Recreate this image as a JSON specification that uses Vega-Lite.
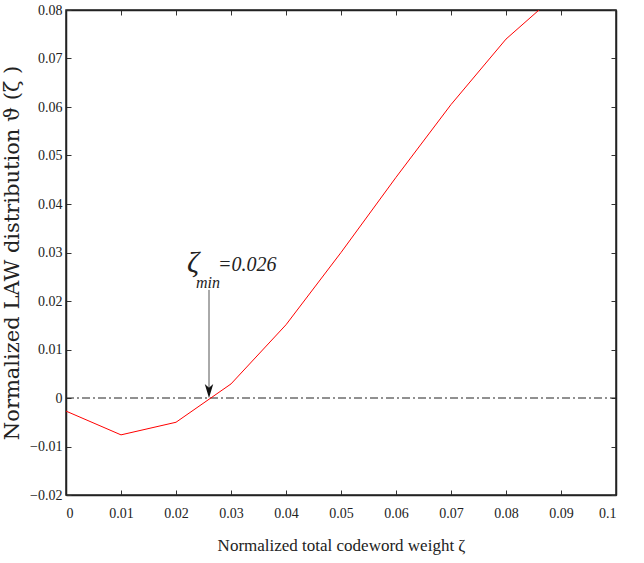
{
  "$schema": "https://vega.github.io/schema/vega-lite/v6.json",
  "width": 550,
  "height": 485,
  "autosize": "none",
  "padding": {"left": 66, "top": 10, "right": 28, "bottom": 68},
  "background": "white",
  "config": {
    "view": {"stroke": "#222", "strokeWidth": 1.5},
    "axis": {
      "labelFont": "Liberation Serif",
      "labelFontSize": 14,
      "labelColor": "#222",
      "titleFont": "Liberation Serif",
      "titleColor": "#222",
      "titleFontWeight": "normal",
      "domainColor": "#222",
      "domainWidth": 1.5,
      "tickColor": "#333",
      "tickSize": -5,
      "grid": false
    }
  },
  "datasets": {
    "curve": [
      {"zeta": 0.00, "theta": -0.0027},
      {"zeta": 0.01, "theta": -0.0076},
      {"zeta": 0.02, "theta": -0.0050},
      {"zeta": 0.03, "theta": 0.0029},
      {"zeta": 0.04, "theta": 0.0151},
      {"zeta": 0.05, "theta": 0.0300},
      {"zeta": 0.06, "theta": 0.0455},
      {"zeta": 0.07, "theta": 0.0605},
      {"zeta": 0.08, "theta": 0.0740},
      {"zeta": 0.09, "theta": 0.0840}
    ],
    "zero": [{"zeta": 0, "theta": 0}, {"zeta": 0.1, "theta": 0}],
    "arrow": [{"zeta": 0.026, "top": 0.0223, "bottom": 0.001, "tip": 0.00145}]
  },
  "layer": [
    {
      "data": {"name": "zero"},
      "mark": {"type": "line", "color": "#222", "strokeWidth": 1, "strokeDash": [8, 3, 2, 3]},
      "encoding": {
        "x": {"field": "zeta", "type": "quantitative", "scale": {"domain": [0, 0.1], "nice": false},
          "axis": {"values": [0, 0.01, 0.02, 0.03, 0.04, 0.05, 0.06, 0.07, 0.08, 0.09, 0.1], "format": ".2~f",
            "title": "Normalized total codeword weight  ζ", "titleFontSize": 17, "labelPadding": 16, "titlePadding": 17}},
        "y": {"field": "theta", "type": "quantitative", "scale": {"domain": [-0.02, 0.08], "nice": false},
          "axis": {"values": [-0.02, -0.01, 0, 0.01, 0.02, 0.03, 0.04, 0.05, 0.06, 0.07, 0.08], "format": ".2~f",
            "title": "Normalized LAW distribution ϑ (ζ )", "titleFont": "DejaVu Serif", "titleFontSize": 21, "labelPadding": 9, "titlePadding": 7}}
      }
    },
    {
      "data": {"name": "zero"},
      "mark": {"type": "line", "opacity": 0},
      "encoding": {
        "x": {"field": "zeta", "type": "quantitative", "scale": {"domain": [0, 0.1], "nice": false},
          "axis": {"orient": "top", "values": [0, 0.01, 0.02, 0.03, 0.04, 0.05, 0.06, 0.07, 0.08, 0.09, 0.1], "labels": false, "title": null}},
        "y": {"field": "theta", "type": "quantitative", "scale": {"domain": [-0.02, 0.08], "nice": false},
          "axis": {"orient": "right", "values": [-0.02, -0.01, 0, 0.01, 0.02, 0.03, 0.04, 0.05, 0.06, 0.07, 0.08], "labels": false, "title": null}}
      }
    },
    {
      "data": {"name": "curve"},
      "mark": {"type": "line", "color": "#ff0000", "strokeWidth": 1, "clip": true},
      "encoding": {
        "x": {"field": "zeta", "type": "quantitative", "axis": null},
        "y": {"field": "theta", "type": "quantitative", "axis": null}
      }
    },
    {
      "data": {"name": "arrow"},
      "mark": {"type": "rule", "color": "#555", "strokeWidth": 1},
      "encoding": {
        "x": {"field": "zeta", "type": "quantitative", "axis": null},
        "y": {"field": "top", "type": "quantitative", "axis": null},
        "y2": {"field": "bottom"}
      }
    },
    {
      "data": {"name": "arrow"},
      "mark": {"type": "point", "shape": "M-0.6,-1L0,1L0.6,-1L0,-0.45Z", "filled": true, "color": "#111", "size": 200, "opacity": 1},
      "encoding": {
        "x": {"field": "zeta", "type": "quantitative", "axis": null},
        "y": {"field": "tip", "type": "quantitative", "axis": null}
      }
    },
    {
      "data": {"values": [{"zeta": 0.02309, "theta": 0.0279, "t": "ζ"}]},
      "mark": {"type": "text", "font": "Liberation Serif", "fontSize": 30, "fontStyle": "italic", "color": "#222", "align": "center", "baseline": "middle"},
      "encoding": {
        "x": {"field": "zeta", "type": "quantitative", "axis": null},
        "y": {"field": "theta", "type": "quantitative", "axis": null},
        "text": {"field": "t"}
      }
    },
    {
      "data": {"values": [{"zeta": 0.0258, "theta": 0.0238, "t": "min"}]},
      "mark": {"type": "text", "font": "Liberation Serif", "fontSize": 16, "fontStyle": "italic", "color": "#222", "align": "center", "baseline": "middle"},
      "encoding": {
        "x": {"field": "zeta", "type": "quantitative", "axis": null},
        "y": {"field": "theta", "type": "quantitative", "axis": null},
        "text": {"field": "t"}
      }
    },
    {
      "data": {"values": [{"zeta": 0.02764, "theta": 0.0275, "t": "=0.026"}]},
      "mark": {"type": "text", "font": "Liberation Serif", "fontSize": 20, "fontStyle": "italic", "color": "#222", "align": "left", "baseline": "middle"},
      "encoding": {
        "x": {"field": "zeta", "type": "quantitative", "axis": null},
        "y": {"field": "theta", "type": "quantitative", "axis": null},
        "text": {"field": "t"}
      }
    }
  ],
  "resolve": {"axis": {"x": "independent", "y": "independent"}}
}
